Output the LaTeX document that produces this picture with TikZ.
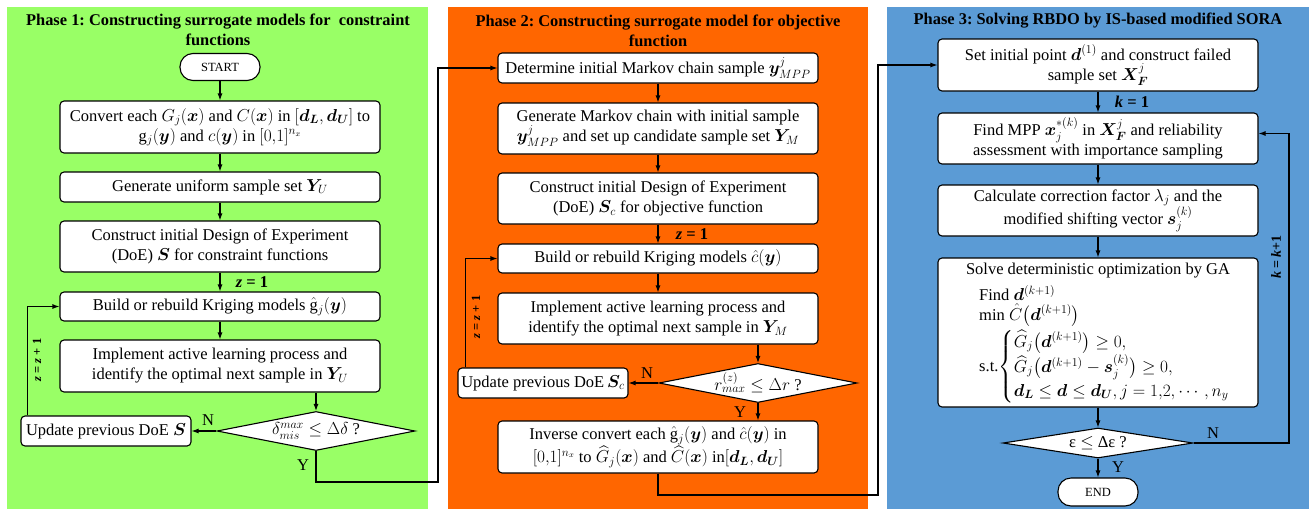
\documentclass[tikz,border=0pt]{standalone}
\usepackage{amsmath,bm}
\usepackage{fontspec}
\setmainfont{Liberation Serif}
\usetikzlibrary{arrows.meta,shapes.geometric}
\definecolor{pgreen}{HTML}{99FF66}
\definecolor{porange}{HTML}{FF6600}
\definecolor{pblue}{HTML}{5B9BD5}
\frenchspacing
\begin{document}
\begin{tikzpicture}[x=1pt,y=-1pt,
  every node/.style={font=\fontsize{16.5}{20}\selectfont},
  box/.style={draw, fill=white, rounded corners=4pt, line width=1.1pt, align=center,
    minimum width=320pt, inner xsep=3pt, inner ysep=0pt},
  sbox/.style={draw, fill=white, rounded corners=4pt, line width=1.1pt, align=center,
    minimum width=170pt, inner xsep=2pt, inner ysep=0pt, minimum height=30pt},
  term/.style={draw, fill=white, rounded corners=13pt, line width=1.1pt,
    minimum width=80pt, minimum height=27pt, inner sep=0pt, font=\fontsize{12.5}{14}\selectfont},
  dia/.style={draw, fill=white, diamond, line width=1.1pt, inner sep=0pt, aspect=1},
  title/.style={align=center, font=\fontsize{16.4}{20}\selectfont\bfseries},
  lbl/.style={inner sep=1pt},
  rlbl/.style={inner sep=1pt, rotate=90, font=\fontsize{12.5}{14}\selectfont\bfseries},
  arr/.style={-{Latex[length=7pt,width=5pt]}, line width=1.1pt}]
\useasboundingbox (0,0) rectangle (1309,509);
% panels
\fill[pgreen] (7,7) rectangle (428,509);
\fill[porange] (448,7) rectangle (868,509);
\fill[pblue] (887,7) rectangle (1309,509);
% titles
\node[title] (t1) at (218,30) {Phase 1: Constructing surrogate models for\ \ constraint\\functions};
\node[title] (t2) at (658,31) {Phase 2: Constructing surrogate model for objective\\function};
\node[title] (t3) at (1098,21) {Phase 3: Solving RBDO by IS-based modified SORA};
% ---------------- Phase 1
\node[term] (start) at (220,67) {START};
\node[box, minimum height=52pt] (c1) at (220,127) {Convert each $G_j(\bm{x})$ and $C(\bm{x})$ in $[\bm{d_L},\bm{d_U}]$ to\\ $\mathrm{g}_j(\bm{y})$ and $c(\bm{y})$ in $[0{,}1]^{n_x}$};
\node[box, minimum height=30pt] (g1) at (220,187) {Generate uniform sample set $\bm{Y}_U$};
\node[box, minimum height=51pt] (d1) at (220,246.5) {Construct initial Design of Experiment\\(DoE) $\bm{S}$ for constraint functions};
\node[box, minimum height=29pt] (b1) at (220,306.5) {Build or rebuild Kriging models $\hat{\mathrm{g}}{}_j(\bm{y})$};
\node[box, minimum height=52pt] (i1) at (220,366) {Implement active learning process and\\identify the optimal next sample in $\bm{Y}_U$};
\node[dia, minimum width=198pt, minimum height=39pt] (q1) at (316,431) {\makebox[0pt]{$\delta^{max}_{mis}\leq\Delta\delta$ ?}};
\node[sbox] (u1) at (106,431) {Update previous DoE $\bm{S}$};
\draw[arr] (start) -- (c1);
\draw[arr] (c1) -- (g1);
\draw[arr] (g1) -- (d1);
\draw[arr] (d1) -- (b1);
\draw[arr] (b1) -- (i1);
\draw[arr] (i1.south -| q1) -- (q1.north);
\draw[arr] (q1.west) -- (u1.east);
\draw[arr] ([xshift=7pt]u1.north west) |- (b1.west);
\node[lbl] (z1) at (252,282) {\textbf{\textit{z} = 1}};
\node[lbl] (n1) at (208,420) {N};
\node[lbl] (y1) at (303,465) {Y};
\node[rlbl] (r1) at (37,360) {\textit{z} = \textit{z} + 1};
% ---------------- Phase 2
\node[box, minimum height=30pt] (det) at (658,68) {Determine initial Markov chain sample $\bm{y}^j_{MPP}$};
\node[box, minimum height=51pt] (gm) at (658,128.5) {Generate Markov chain with initial sample\\$\bm{y}^j_{MPP}$ and set up candidate sample set $\bm{Y}_M$};
\node[box, minimum height=51pt] (ci) at (658,198.5) {Construct initial Design of Experiment\\(DoE) $\bm{S}_c$ for objective function};
\node[box, minimum height=29pt] (b2) at (658,258.5) {Build or rebuild Kriging models $\hat{c}(\bm{y})$};
\node[box, minimum height=51pt] (i2) at (658,318.5) {Implement active learning process and\\identify the optimal next sample in $\bm{Y}_M$};
\node[dia, minimum width=198pt, minimum height=39pt] (q2) at (758,383) {\makebox[0pt]{$r^{(z)}_{max}\leq\Delta r$ ?}};
\node[sbox] (u2) at (543,383) {Update previous DoE$\,\bm{S}_c$};
\node[box, minimum height=52pt] (inv) at (658,447) {Inverse convert each $\hat{\mathrm{g}}{}_j(\bm{y})$ and $\hat{c}(\bm{y})$ in\\$[0{,}1]^{n_x}$ to $\widehat{G}_j(\bm{x})$ and $\widehat{C}(\bm{x})$ in$[\bm{d_L},\bm{d_U}]$};
\draw[arr] (det) -- (gm);
\draw[arr] (gm) -- (ci);
\draw[arr] (ci) -- (b2);
\draw[arr] (b2) -- (i2);
\draw[arr] (i2.south -| q2) -- (q2.north);
\draw[arr] (q2.west) -- (u2.east);
\draw[arr] ([xshift=8pt]u2.north west) |- (b2.west);
\draw[arr] (q2.south) -- (inv.north -| q2);
\node[lbl] (z2) at (692,234) {\textbf{\textit{z} = 1}};
\node[lbl] (n2) at (647,373) {N};
\node[lbl] (y2) at (740,412) {Y};
\node[rlbl] (r2) at (476,317) {\textit{z} = \textit{z} + 1};
% ---------------- Phase 3
\node[box, minimum height=52pt] (set) at (1098,65) {Set initial point $\bm{d}^{(1)}$ and construct failed\\sample set $\bm{X}^j_{\bm{F}}$};
\node[box, minimum height=51pt] (find) at (1098,138.5) {Find MPP $\bm{x}^{*(k)}_j$ in $\bm{X}^j_{\bm{F}}$ and reliability\\assessment with importance sampling};
\node[box, minimum height=51pt] (calc) at (1098,210.5) {Calculate correction factor $\lambda_j$ and the\\modified shifting vector $\bm{s}^{(k)}_j$};
\node[box, minimum height=149pt] (solve) at (1098,332.5) {};
\node[lbl] (st) at (1098,271) {Solve deterministic optimization by GA};
\node[lbl, anchor=west] (sf) at (978,293) {Find $\bm{d}^{(k+1)}$};
\node[lbl, anchor=west] (sm) at (978,315) {min $\hat{C}\big(\bm{d}^{(k+1)}\big)$};
\node[lbl, anchor=west] (sc) at (978,367) {s.t.$\begin{cases}\widehat{G}_j\big(\bm{d}^{(k+1)}\big)\geq 0,\\ \widehat{G}_j\big(\bm{d}^{(k+1)}-\bm{s}^{(k)}_j\big)\geq 0,\\ \bm{d_L}\leq\bm{d}\leq\bm{d_U}, j=1{,}2{,}\cdots,n_y\end{cases}$};
\node[dia, minimum width=190pt, minimum height=30pt] (q3) at (1098,443) {\makebox[0pt]{ε $\leq$ Δε ?}};
\node[term, minimum height=28pt] (end) at (1098,492) {END};
\draw[arr] (set) -- (find);
\draw[arr] (find) -- (calc);
\draw[arr] (calc) -- (solve);
\draw[arr] (solve) -- (q3);
\draw[arr] (q3) -- (end);
\coordinate (j3) at (1289,443);
\draw[arr] (q3.east) -- (j3) |- ([yshift=5pt]find.east);
\node[lbl] (k1) at (1132,102) {\textbf{\textit{k} = 1}};
\node[lbl] (n3) at (1213,433) {N};
\node[lbl] (y3) at (1118,467) {Y};
\node[rlbl, font=\fontsize{14}{16}\selectfont\bfseries] (r3) at (1276,257) {\textit{k} = \textit{k}+1};
% ---------------- cross-phase connectors
\coordinate (j1) at (438,482);
\draw[arr] (q1.south) |- (j1) |- (det.west);
\coordinate (j2) at (878,495);
\draw[arr] (inv.south) |- (j2) |- (set.west);
\end{tikzpicture}
\end{document}
